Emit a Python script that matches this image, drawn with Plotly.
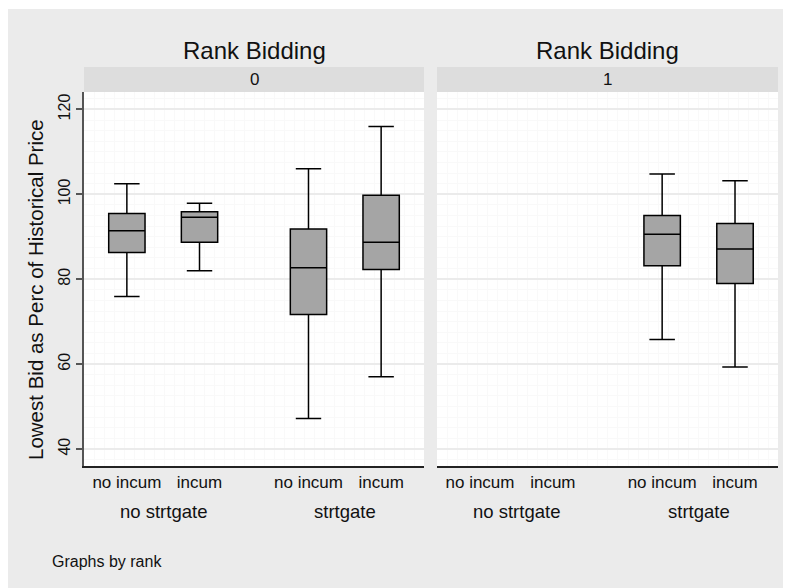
import plotly.graph_objects as go

# ---- data ----
categories = ["no incum", "incum", "no incum", "incum"]
cat_pos = [1, 2, 3.5, 4.5]
groups = ["no strtgate", "strtgate"]
group_pos = [1.5, 4.0]
panels = ["0", "1"]
panel_title = "Rank Bidding"

# rank 0
r0_pos = [1, 2, 3.5, 4.5]
r0_low = [75.9, 82.0, 47.2, 57.0]
r0_q1 = [86.3, 88.7, 71.7, 82.3]
r0_med = [91.4, 94.6, 82.7, 88.7]
r0_q3 = [95.5, 95.9, 91.8, 99.8]
r0_high = [102.5, 97.9, 106.0, 116.0]

# rank 1
r1_pos = [3.5, 4.5]
r1_low = [65.8, 59.3]
r1_q1 = [83.2, 79.0]
r1_med = [90.6, 87.1]
r1_q3 = [95.0, 93.1]
r1_high = [104.8, 103.2]

y_ticks = [40, 60, 80, 100, 120]

# page body has an 8px margin; size the figure to fit the 791x588 window
OFF = 8
W, H = 791 - OFF, 588 - OFF
def px_x(p):
    return (p - OFF) / W
def px_y(p):
    return 1 - (p - OFF) / H

FONT = "Liberation Sans, Arial, sans-serif"
BOXFILL = "#a5a5a5"

fig = go.Figure()

def add_box(pos, low, q1, med, q3, high, xa, ya):
    fig.add_trace(go.Box(
        x=pos, lowerfence=low, q1=q1, median=med, q3=q3, upperfence=high,
        width=0.5, whiskerwidth=0.7, fillcolor=BOXFILL,
        line=dict(color="black", width=1.5), boxpoints=False,
        xaxis=xa, yaxis=ya, showlegend=False, hoverinfo="skip"))

add_box(r0_pos, r0_low, r0_q1, r0_med, r0_q3, r0_high, "x", "y")
add_box(r1_pos, r1_low, r1_q1, r1_med, r1_q3, r1_high, "x2", "y2")

ydom = [px_y(466), px_y(92)]
xdom1 = [px_x(84), px_x(424)]
xdom2 = [px_x(437), px_x(778)]
yrange = [36, 124.1]
xrange = [0.41, 5.09]

xaxis_common = dict(range=xrange, tickvals=cat_pos, ticktext=categories,
                    showline=True, linecolor="#222", linewidth=1.5,
                    showgrid=False, zeroline=False, ticks="",
                    tickfont=dict(family=FONT, size=17, color="#111"),
                    minor=dict(dtick=0.138, tick0=0.41, showgrid=True,
                               gridcolor="#f9f9f9", gridwidth=1),
                    automargin=False, fixedrange=True)
yaxis_common = dict(range=yrange, tickvals=y_ticks, showgrid=True,
                    gridcolor="#ebebeb", gridwidth=1.5, zeroline=False,
                    minor=dict(dtick=2.5, tick0=0, showgrid=True,
                               gridcolor="#f9f9f9", gridwidth=1),
                    automargin=False, domain=ydom, fixedrange=True)

fig.update_layout(
    width=W, height=H,
    margin=dict(l=0, r=0, t=0, b=0),
    paper_bgcolor="#ebebeb", plot_bgcolor="white",
    xaxis=dict(domain=xdom1, anchor="y", **xaxis_common),
    xaxis2=dict(domain=xdom2, anchor="y2", **xaxis_common),
    yaxis=dict(anchor="x", showline=True, linecolor="#555", linewidth=2,
               ticks="outside", ticklen=6, tickcolor="#555", tickwidth=1.5,
               tickangle=-90, showticklabels=True,
               tickfont=dict(family=FONT, size=16, color="#111"),
               **yaxis_common),
    yaxis2=dict(anchor="x2", showline=False, showticklabels=False, ticks="",
                **yaxis_common),
    showlegend=False,
)

shapes = []
# thin white strip at the very top
shapes.append(dict(type="rect", xref="paper", yref="paper", x0=0, x1=1, y0=px_y(9), y1=1,
                   fillcolor="white", line=dict(width=0), layer="below"))
annotations = []
for dom, lab in zip([xdom1, xdom2], panels):
    shapes.append(dict(type="rect", xref="paper", yref="paper", x0=dom[0], x1=dom[1],
                       y0=px_y(92), y1=px_y(67), fillcolor="#dddddd",
                       line=dict(width=0), layer="below"))
    cx = (dom[0] + dom[1]) / 2
    annotations.append(dict(text=lab, x=cx, y=px_y(79.5), xref="paper", yref="paper",
                            showarrow=False, xanchor="center", yanchor="middle",
                            font=dict(family=FONT, size=17, color="#111")))
    annotations.append(dict(text=panel_title, x=cx, y=px_y(51), xref="paper", yref="paper",
                            showarrow=False, xanchor="center", yanchor="middle",
                            font=dict(family=FONT, size=24, color="#111")))

for xr in ["x", "x2"]:
    for g, gp in zip(groups, group_pos):
        annotations.append(dict(text=g, x=gp, y=px_y(511), xref=xr, yref="paper",
                                showarrow=False, xanchor="center", yanchor="middle",
                                font=dict(family=FONT, size=18.5, color="#111")))

annotations.append(dict(text="Lowest Bid as Perc of Historical Price", textangle=-90,
                        x=px_x(35), y=px_y(290), xref="paper", yref="paper",
                        showarrow=False, xanchor="center", yanchor="middle",
                        font=dict(family=FONT, size=20.5, color="#111")))
annotations.append(dict(text="Graphs by rank", x=px_x(50), y=px_y(561),
                        xref="paper", yref="paper", showarrow=False,
                        xanchor="left", yanchor="middle",
                        font=dict(family=FONT, size=16, color="#111")))

fig.update_layout(shapes=shapes, annotations=annotations)
fig.write_html("out.html")
